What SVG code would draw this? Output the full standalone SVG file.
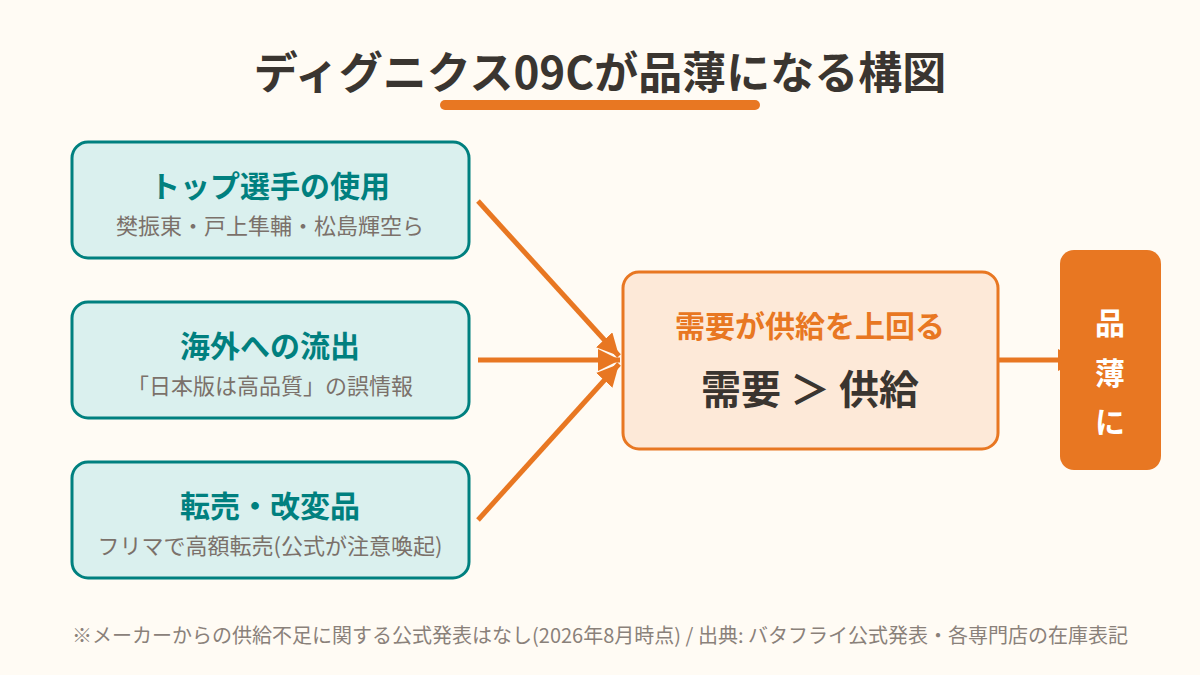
<svg xmlns="http://www.w3.org/2000/svg" width="1200" height="675" viewBox="0 0 1200 675">
<defs>
<marker id="ah" viewBox="0 0 10 10" refX="10" refY="5" markerWidth="4.4" markerHeight="4.4" orient="auto" markerUnits="strokeWidth">
<path d="M0,0 L10,5 L0,10 z" fill="#E87722"/>
</marker>
</defs>
<style>
text{font-family:"Noto Sans CJK JP","Noto Sans",sans-serif;text-anchor:middle}
.src{fill:#DAF0EE;stroke:#00807F;stroke-width:3}
.st{font-size:30px;font-weight:700;fill:#00807F}
.ss{font-size:22px;fill:#7B716A}
.conn{stroke:#E87722;stroke-width:5;fill:none;marker-end:url(#ah)}
</style>
<rect width="1200" height="675" fill="#FFFBF4"/>
<g id="title">
<text x="600" y="89" font-size="44" font-weight="700" fill="#3A3530">ディグニクス09Cが品薄になる構図</text>
<rect x="440" y="100" width="320" height="10" rx="5" fill="#E87722"/>
</g>
<g id="connectors">
<line class="conn" x1="478" y1="201" x2="619" y2="356"/>
<line class="conn" x1="478" y1="360" x2="620" y2="360"/>
<line class="conn" x1="478" y1="520" x2="619" y2="364"/>
<line class="conn" x1="999" y1="360" x2="1080" y2="360"/>
</g>
<g id="node-top">
<rect class="src" x="72" y="142" width="397" height="116" rx="16"/>
<text class="st" x="270" y="197">トップ選手の使用</text>
<text class="ss" x="270" y="234">樊振東・戸上隼輔・松島輝空ら</text>
</g>
<g id="node-overseas">
<rect class="src" x="72" y="302" width="397" height="116" rx="16"/>
<text class="st" x="270" y="357">海外への流出</text>
<text class="ss" x="270" y="394">「日本版は高品質」の誤情報</text>
</g>
<g id="node-resale">
<rect class="src" x="72" y="462" width="397" height="116" rx="16"/>
<text class="st" x="270" y="517">転売・改変品</text>
<text class="ss" x="270" y="554">フリマで高額転売(公式が注意喚起)</text>
</g>
<g id="node-demand">
<rect x="623" y="272" width="375" height="177" rx="16" fill="#FDE9D8" stroke="#E87722" stroke-width="3"/>
<text x="810" y="337" font-size="30" font-weight="700" fill="#E87722">需要が供給を上回る</text>
<text x="810" y="404" font-size="40" font-weight="700" fill="#3A3530">需要 ＞ 供給</text>
</g>
<g id="node-shortage">
<rect x="1060" y="250" width="101" height="220" rx="14" fill="#E87722"/>
<text x="1110" y="334" font-size="30" font-weight="700" fill="#FFFFFF">品</text>
<text x="1110" y="384" font-size="30" font-weight="700" fill="#FFFFFF">薄</text>
<text x="1110" y="433" font-size="30" font-weight="700" fill="#FFFFFF">に</text>
</g>
<g id="footer">
<text x="600" y="643" font-size="20" fill="#8A817A">※メーカーからの供給不足に関する公式発表はなし(2026年8月時点) / 出典: バタフライ公式発表・各専門店の在庫表記</text>
</g>
</svg>
